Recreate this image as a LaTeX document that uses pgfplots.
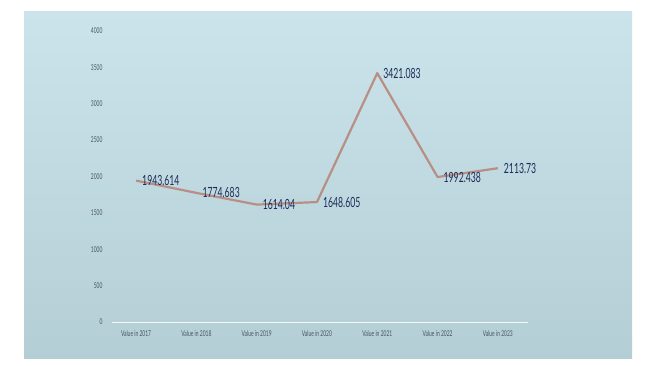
\documentclass[border=0pt]{standalone}
\usepackage{pgfplots}
\pgfplotsset{compat=1.18}
\usepackage{fontspec}
\setmainfont{Lato}
\newfontfamily\cond[FakeStretch=0.62]{Lato}
\definecolor{bgtop}{RGB}{203,228,235}
\definecolor{bgbot}{RGB}{180,206,213}
\definecolor{linec}{RGB}{184,143,133}
\definecolor{lblc}{RGB}{30,42,88}
\definecolor{tickc}{RGB}{70,85,95}
\begin{document}
\begin{tikzpicture}[x=1pt,y=1pt]
\fill[white] (0,0) rectangle (653,366);
\shade[top color=bgtop, bottom color=bgbot] (24,7) rectangle (632,354);
\begin{axis}[
  at={(112pt,44pt)}, anchor=south west,
  scale only axis, width=416pt, height=291pt,
  xmin=-0.4, xmax=6.5, ymin=0, ymax=4000,
  axis y line*=left, axis x line*=bottom,
  y axis line style={draw=none},
  x axis line style={draw=white!80!bgtop, line width=0.8pt, -},
  xtick={0,...,6},
  xticklabels={Value in 2017,Value in 2018,Value in 2019,Value in 2020,Value in 2021,Value in 2022,Value in 2023},
  xtick style={draw=none},
  ytick style={draw=none},
  ytick={0,500,...,4000},
  tick label style={font=\cond\fontsize{8}{9}\selectfont, text=tickc},
  /pgf/number format/assume math mode=true,
  /pgf/number format/1000 sep={},
  xticklabel style={yshift=-5pt},
  yticklabel style={xshift=-6pt},
  clip=false,
  nodes near coords, point meta=explicit symbolic,
  every node near coord/.append style={anchor=west, font=\cond\fontsize{14}{15}\selectfont, text=lblc, inner sep=1pt, xshift=4pt},
]
\addplot[linec, line width=2.2pt, no markers, line join=round] table[meta=lbl] {
x y lbl
0 1943.614 1943.614
1 1774.683 1774.683
2 1614.04 1614.04
3 1648.605 1648.605
4 3421.083 3421.083
5 1992.438 1992.438
6 2113.73 2113.73
};
\end{axis}
\end{tikzpicture}
\end{document}
